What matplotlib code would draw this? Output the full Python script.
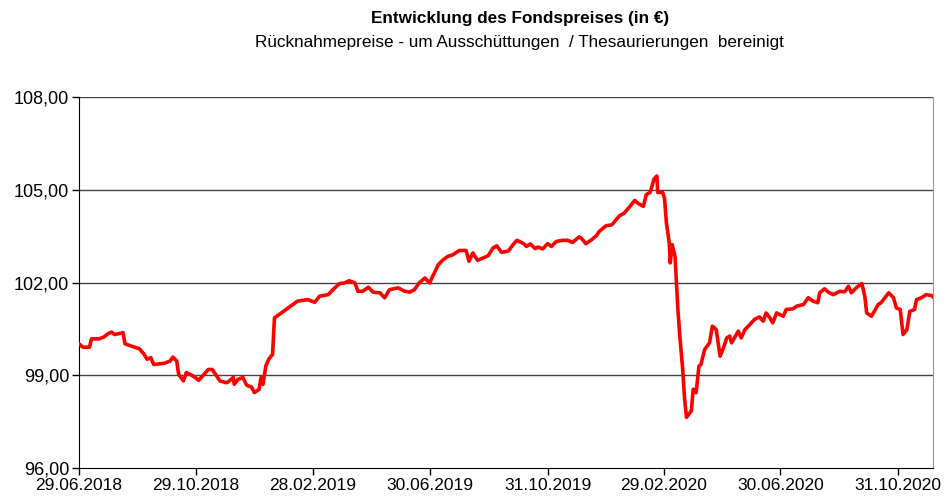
import matplotlib
matplotlib.use("Agg")
import matplotlib.pyplot as plt
import pandas as pd

plt.rcParams['font.family'] = ['Liberation Sans', 'DejaVu Sans']

# Fondspreis (in EUR)
dates = [
    "2018-06-29", "2018-07-03", "2018-07-10", "2018-07-12", "2018-07-20", "2018-07-25", "2018-07-29",
    "2018-08-02", "2018-08-05", "2018-08-14", "2018-08-16", "2018-08-24", "2018-08-31", "2018-09-05",
    "2018-09-08", "2018-09-12", "2018-09-15", "2018-09-26", "2018-10-02", "2018-10-05", "2018-10-09",
    "2018-10-11", "2018-10-16", "2018-10-19", "2018-10-26", "2018-11-01", "2018-11-05", "2018-11-11",
    "2018-11-15", "2018-11-18", "2018-11-23", "2018-11-30", "2018-12-03", "2018-12-07", "2018-12-08",
    "2018-12-12", "2018-12-17", "2018-12-21", "2018-12-26", "2018-12-29", "2019-01-03", "2019-01-05",
    "2019-01-07", "2019-01-10", "2019-01-13", "2019-01-17", "2019-01-19", "2019-01-24", "2019-01-31",
    "2019-02-07", "2019-02-12", "2019-02-23", "2019-03-02", "2019-03-07", "2019-03-16", "2019-03-23",
    "2019-03-28", "2019-04-02", "2019-04-07", "2019-04-13", "2019-04-16", "2019-04-21", "2019-04-27",
    "2019-05-02", "2019-05-09", "2019-05-14", "2019-05-19", "2019-05-28", "2019-06-04", "2019-06-09",
    "2019-06-14", "2019-06-19", "2019-06-25", "2019-06-30", "2019-07-03", "2019-07-09", "2019-07-14",
    "2019-07-19", "2019-07-24", "2019-07-31", "2019-08-07", "2019-08-10", "2019-08-14", "2019-08-19",
    "2019-08-25", "2019-08-30", "2019-09-04", "2019-09-08", "2019-09-13", "2019-09-20", "2019-09-25",
    "2019-09-29", "2019-10-06", "2019-10-09", "2019-10-13", "2019-10-18", "2019-10-21", "2019-10-26",
    "2019-10-31", "2019-11-04", "2019-11-09", "2019-11-16", "2019-11-21", "2019-11-26", "2019-12-03",
    "2019-12-05", "2019-12-10", "2019-12-16", "2019-12-21", "2019-12-24", "2019-12-31", "2020-01-06",
    "2020-01-09", "2020-01-14", "2020-01-19", "2020-01-25", "2020-01-30", "2020-02-03", "2020-02-08",
    "2020-02-11", "2020-02-15", "2020-02-17", "2020-02-19", "2020-02-22", "2020-02-23", "2020-02-28",
    "2020-03-01", "2020-03-03", "2020-03-06", "2020-03-07", "2020-03-09", "2020-03-12", "2020-03-15",
    "2020-03-17", "2020-03-20", "2020-03-22", "2020-03-24", "2020-03-29", "2020-03-31", "2020-04-03",
    "2020-04-06", "2020-04-08", "2020-04-12", "2020-04-17", "2020-04-20", "2020-04-24", "2020-04-28",
    "2020-05-01", "2020-05-05", "2020-05-08", "2020-05-10", "2020-05-17", "2020-05-20", "2020-05-24",
    "2020-05-29", "2020-06-03", "2020-06-08", "2020-06-12", "2020-06-15", "2020-06-19", "2020-06-22",
    "2020-06-26", "2020-07-03", "2020-07-06", "2020-07-13", "2020-07-17", "2020-07-24", "2020-07-29",
    "2020-08-03", "2020-08-08", "2020-08-10", "2020-08-15", "2020-08-19", "2020-08-24", "2020-08-31",
    "2020-09-05", "2020-09-09", "2020-09-12", "2020-09-17", "2020-09-23", "2020-09-26", "2020-09-28",
    "2020-10-03", "2020-10-06", "2020-10-10", "2020-10-13", "2020-10-17", "2020-10-21", "2020-10-26",
    "2020-10-29", "2020-11-02", "2020-11-05", "2020-11-09", "2020-11-12", "2020-11-17", "2020-11-19",
    "2020-11-24", "2020-11-29", "2020-12-05", "2020-12-07",
]
prices = [
    100.02, 99.91, 99.91, 100.18, 100.18, 100.24, 100.34,
    100.40, 100.32, 100.38, 100.02, 99.93, 99.86, 99.68,
    99.52, 99.57, 99.35, 99.39, 99.46, 99.59, 99.46,
    99.03, 98.82, 99.09, 98.98, 98.84, 98.98, 99.19,
    99.19, 99.06, 98.82, 98.76, 98.82, 98.93, 98.71,
    98.87, 98.93, 98.68, 98.62, 98.44, 98.55, 98.93,
    98.71, 99.30, 99.52, 99.68, 100.86, 100.97, 101.13,
    101.29, 101.40, 101.45, 101.36, 101.56, 101.61, 101.83,
    101.97, 101.99, 102.06, 101.99, 101.72, 101.72, 101.85,
    101.69, 101.67, 101.51, 101.77, 101.83, 101.72, 101.69,
    101.77, 101.99, 102.15, 101.99, 102.20, 102.58, 102.74,
    102.85, 102.90, 103.04, 103.04, 102.69, 102.96, 102.72,
    102.80, 102.87, 103.12, 103.19, 102.98, 103.02, 103.23,
    103.37, 103.26, 103.17, 103.25, 103.10, 103.15, 103.09,
    103.26, 103.17, 103.33, 103.37, 103.37, 103.30, 103.48,
    103.44, 103.26, 103.39, 103.52, 103.66, 103.84, 103.87,
    103.98, 104.16, 104.25, 104.47, 104.66, 104.55, 104.47,
    104.85, 104.92, 105.12, 105.35, 105.45, 104.92, 104.92,
    104.74, 103.93, 103.28, 102.64, 103.23, 102.85, 101.13,
    100.27, 99.19, 98.23, 97.64, 97.85, 98.55, 98.44,
    99.30, 99.35, 99.84, 100.05, 100.59, 100.48, 99.62,
    99.84, 100.21, 100.27, 100.05, 100.43, 100.21, 100.48,
    100.64, 100.81, 100.89, 100.75, 101.02, 100.86, 100.70,
    101.02, 100.91, 101.13, 101.15, 101.24, 101.29, 101.51,
    101.40, 101.35, 101.67, 101.80, 101.69, 101.61, 101.72,
    101.70, 101.88, 101.67, 101.83, 101.97, 101.56, 101.02,
    100.91, 101.07, 101.29, 101.35, 101.51, 101.67, 101.51,
    101.18, 101.13, 100.32, 100.48, 101.07, 101.13, 101.45,
    101.51, 101.61, 101.58, 101.51,
]

tick_dates = ["2018-06-29", "2018-10-29", "2019-02-28", "2019-06-30",
              "2019-10-31", "2020-02-29", "2020-06-30", "2020-10-31"]
tick_labels = ["29.06.2018", "29.10.2018", "28.02.2019", "30.06.2019",
               "31.10.2019", "29.02.2020", "30.06.2020", "31.10.2020"]
y_ticks = [96, 99, 102, 105, 108]
y_labels = ["96,00", "99,00", "102,00", "105,00", "108,00"]

x = pd.to_datetime(dates)

fig = plt.figure(figsize=(9.47, 4.98), dpi=100)
ax = fig.add_axes([0.0834, 0.0602, 0.9016, 0.7446])

for v in y_ticks[1:]:
    ax.axhline(v, color='#444444', lw=1.0, zorder=1)

ax.plot(x, prices, color='#ff0000', lw=2.6, zorder=3, solid_joinstyle='round')

ax.set_ylim(96, 108)
ax.set_xlim(pd.Timestamp("2018-06-29"), pd.Timestamp("2020-12-06"))
ax.set_yticks(y_ticks)
ax.set_yticklabels(y_labels, fontsize=13)
ax.set_xticks(pd.to_datetime(tick_dates))
ax.set_xticklabels(tick_labels, fontsize=12.5)
ax.tick_params(axis='both', length=5, width=1, color='black', pad=2)

ax.spines['left'].set_color('black')
ax.spines['bottom'].set_color('black')
ax.spines['right'].set_color('#999999')
ax.spines['top'].set_visible(False)

fig.text(0.549, 0.962, "Entwicklung des Fondspreises (in €)", ha='center', va='center',
         fontsize=12.3, fontweight='bold')
fig.text(0.549, 0.914, "Rücknahmepreise - um Ausschüttungen  / Thesaurierungen  bereinigt",
         ha='center', va='center', fontsize=12.3)

fig.savefig('out.png', dpi=100)
